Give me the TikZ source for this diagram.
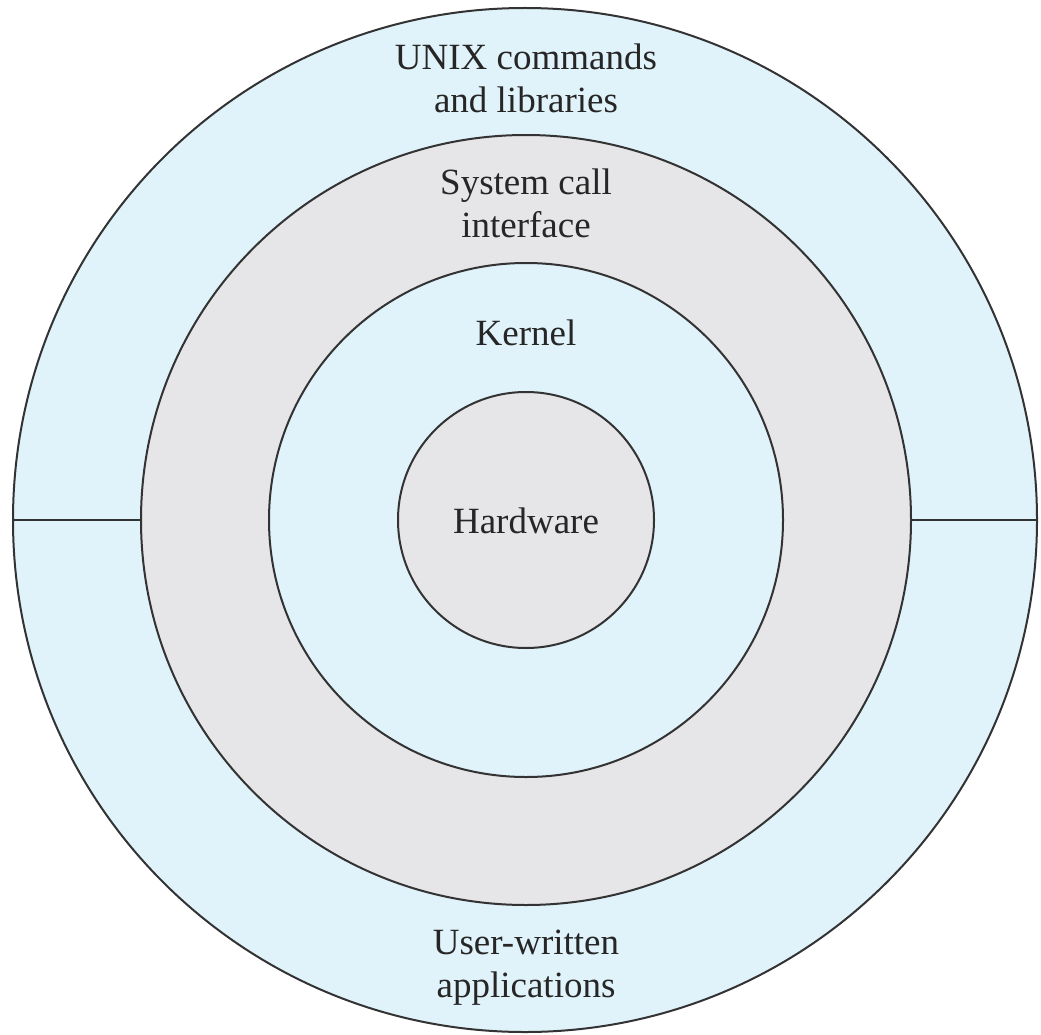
\documentclass[tikz,border=0pt]{standalone}
\usepackage{fontspec}
\setmainfont{Liberation Serif}
\definecolor{ringblue}{HTML}{E0F2FA}
\definecolor{ringgray}{HTML}{E6E6E8}
\definecolor{edge}{HTML}{333333}
\begin{document}
\begin{tikzpicture}[x=1pt,y=-1pt,
  ring/.style={circle,draw=edge,line width=2pt,inner sep=0pt},
  lbl/.style={align=center,font=\fontsize{37}{43}\selectfont,text=black!85}]
\useasboundingbox (0,0) rectangle (1041,1035);
\node[ring,fill=ringblue,minimum size=1024pt] (outer) at (525,520) {};
\node[ring,fill=ringgray,minimum size=770pt] (syscall) at (526,520) {};
\node[ring,fill=ringblue,minimum size=514pt] (kernel) at (526,520) {};
\node[ring,fill=ringgray,minimum size=256pt] (hw) at (526,520) {};
\draw[edge,line width=2pt] (outer.west) -- (syscall.west);
\draw[edge,line width=2pt] (syscall.east) -- (outer.east);
\node[lbl] (unix) at (526,78) {UNIX commands\\and libraries};
\node[lbl] (sci) at (526,203) {System call\\interface};
\node[lbl] (kern) at (526,333) {Kernel};
\node[lbl] (hwl) at (526,521) {Hardware};
\node[lbl] (user) at (526,968) {User-written\\applications};
\end{tikzpicture}
\end{document}
